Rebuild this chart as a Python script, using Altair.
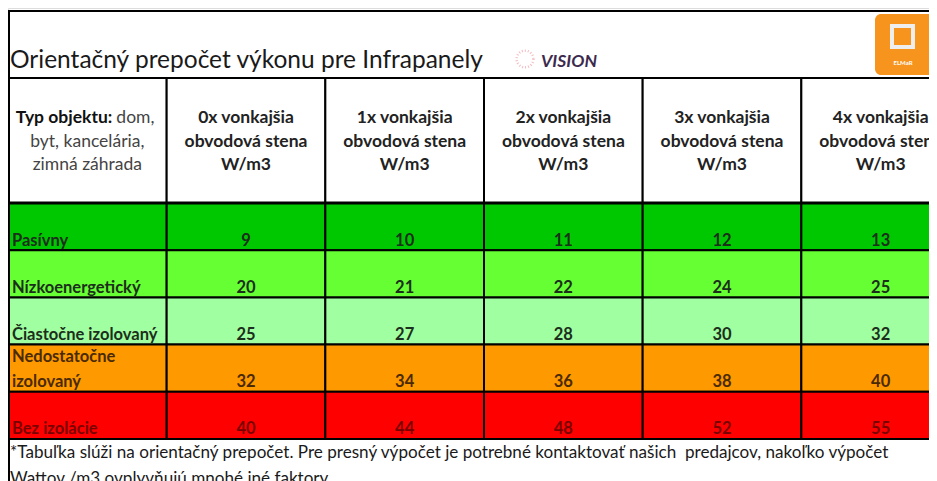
import altair as alt
import pandas as pd

FONT = "Lato"

TITLE = "Orientačný prepočet výkonu pre Infrapanely"
BRAND = "VISION"
LOGO_TEXT = "ELMaR"

columns = ["typ", "0x", "1x", "2x", "3x", "4x"]
value_columns = ["0x", "1x", "2x", "3x", "4x"]
col_head_line0 = ["0x vonkajšia", "1x vonkajšia", "2x vonkajšia", "3x vonkajšia", "4x vonkajšia"]
col_head_line1 = "obvodová stena"
col_head_line2 = "W/m3"
typ_bold = "Typ objektu:"
typ_rest = "dom,"
typ_lines = ["byt, kancelária,", "zimná záhrada"]

rows = ["Pasívny", "Nízkoenergetický", "Čiastočne izolovaný", "Nedostatočne izolovaný", "Bez izolácie"]
row_label_main = ["Pasívny", "Nízkoenergetický", "\u00a0Čiastočne izolovaný", "izolovaný", "Bez izolácie"]
row_label_top = ["", "", "", "Nedostatočne", ""]
row_fill = ["#00c800", "#66ff33", "#a0ffa0", "#ff9900", "#ff0000"]
row_text = ["#1c2e1c", "#1c2e1c", "#1c2e1c", "#4a2a00", "#7a0000"]

vals_0x = [9, 20, 25, 32, 40]
vals_1x = [10, 21, 27, 34, 44]
vals_2x = [11, 22, 28, 36, 48]
vals_3x = [12, 24, 30, 38, 52]
vals_4x = [13, 25, 32, 40, 55]
values = {"0x": vals_0x, "1x": vals_1x, "2x": vals_2x, "3x": vals_3x, "4x": vals_4x}

footer_lines = [
    "*Tabuľka slúži na orientačný prepočet. Pre presný výpočet je potrebné kontaktovať našich\u00a0 predajcov, nakoľko výpočet",
    "Wattov /m3 ovplyvňujú mnohé iné faktory.",
]

# layout (chart-local pixels)
W, H = 921, 473
XRANGE = [0, 952]
TOP = 3
HEAD_TOP, HEAD_BOT = 70, 195
BODY_TOP, BODY_BOT = 195, 431
HEAD_LINES = [110, 157]
FOOT_LINES = [445, 471]
FS_HEAD = 17.5
FS_BODY = 16.5


def xenc(**kw):
    return alt.X("col:N", scale=alt.Scale(domain=columns, range=XRANGE, paddingInner=0, paddingOuter=0),
                 axis=None, **kw)


# ---------- title section ----------
title_df = pd.DataFrame({"t": [TITLE]})
title_text = alt.Chart(title_df).mark_text(align="left", baseline="middle", fontSize=24.5, font=FONT,
                                            color="#1a1a1a").encode(
    x=alt.value(2), y=alt.value(53), text="t:N")
brand_df = pd.DataFrame({"t": [BRAND]})
brand_icon = alt.Chart(brand_df).mark_point(shape="circle", size=280, filled=False, stroke="#f0a0a8",
                                            strokeWidth=2.5, strokeDash=[1, 2]).encode(
    x=alt.value(517), y=alt.value(51))
brand_text = alt.Chart(brand_df).mark_text(align="left", baseline="middle", fontSize=17.5, font=FONT,
                                           fontStyle="italic", fontWeight="bold", color="#3d2b4f").encode(
    x=alt.value(533), y=alt.value(54), text="t:N")
logo_df = pd.DataFrame({"t": [LOGO_TEXT]})
logo_box = alt.Chart(logo_df).mark_rect(cornerRadius=6, color="#f7941d", clip=True).encode(
    x=alt.value(867), x2=alt.value(935), y=alt.value(6), y2=alt.value(67))
logo_sq = alt.Chart(logo_df).mark_rect(fill="#f7941d", stroke="#eeeeee", strokeWidth=4).encode(
    x=alt.value(884), x2=alt.value(905), y=alt.value(18), y2=alt.value(39))
logo_txt = alt.Chart(logo_df).mark_text(fontSize=6, font=FONT, color="#ffffff", fontWeight="bold").encode(
    x=alt.value(895), y=alt.value(55), text="t:N")
top_rule = alt.Chart(title_df).mark_rule(color="black", strokeWidth=2).encode(
    x=alt.value(0), x2=alt.value(W), y=alt.value(TOP))
left_rule = alt.Chart(title_df).mark_rule(color="black", strokeWidth=2).encode(
    x=alt.value(1), y=alt.value(TOP - 1), y2=alt.value(H))

# ---------- header section ----------
head_cells = pd.DataFrame({"col": columns})
head_rect = alt.Chart(head_cells).mark_rect(fill="white", stroke="black", strokeWidth=2, clip=True).encode(
    x=xenc(), y=alt.value(HEAD_TOP), y2=alt.value(HEAD_BOT))

head_rows = []
for c, l0 in zip(value_columns, col_head_line0):
    for i, t in enumerate([l0, col_head_line1, col_head_line2]):
        head_rows.append({"col": c, "line": i, "t": t})
head_df = pd.DataFrame(head_rows)
yline = alt.Y("line:O", scale=alt.Scale(type="point", domain=[0, 1, 2], range=HEAD_LINES, padding=0), axis=None)
head_text = alt.Chart(head_df).mark_text(fontSize=FS_HEAD, font=FONT, fontWeight="bold", color="#222222",
                                         baseline="middle", clip=True).encode(x=xenc(), y=yline, text="t:N")

typ_df = pd.DataFrame({"col": ["typ", "typ"], "line": [1, 2], "t": typ_lines})
typ_text = alt.Chart(typ_df).mark_text(fontSize=FS_HEAD, font=FONT, color="#444444", baseline="middle").encode(
    x=xenc(), y=yline, text="t:N")
typ_b_df = pd.DataFrame({"col": ["typ"], "line": [0], "t": [typ_bold]})
typ_b = alt.Chart(typ_b_df).mark_text(fontSize=FS_HEAD, font=FONT, fontWeight="bold", color="#111111",
                                      baseline="middle", align="right", dx=25).encode(
    x=xenc(), y=yline, text="t:N")
typ_r_df = pd.DataFrame({"col": ["typ"], "line": [0], "t": [typ_rest]})
typ_r = alt.Chart(typ_r_df).mark_text(fontSize=FS_HEAD, font=FONT, color="#444444",
                                      baseline="middle", align="left", dx=29).encode(
    x=xenc(), y=yline, text="t:N")

# ---------- body ----------
cells = []
for r, lab, top, fc, tc, i in zip(rows, row_label_main, row_label_top, row_fill, row_text, range(len(rows))):
    cells.append({"row": r, "col": "typ", "t": lab, "t2": top, "fill": fc, "tc": tc})
    for c in value_columns:
        cells.append({"row": r, "col": c, "t": str(values[c][i]), "t2": "", "fill": fc, "tc": tc})
body_df = pd.DataFrame(cells)
yrow = alt.Y("row:N", scale=alt.Scale(domain=rows, range=[BODY_TOP, BODY_BOT], paddingInner=0, paddingOuter=0),
             axis=None)
body_rect = alt.Chart(body_df).mark_rect(stroke="black", strokeWidth=2, clip=True).encode(
    x=xenc(), y=yrow, fill=alt.Fill("fill:N", scale=None))
nums = alt.Chart(body_df).transform_filter(alt.datum.col != "typ").mark_text(
    fontSize=FS_BODY, font=FONT, fontWeight="bold", baseline="middle", dy=14, clip=True).encode(
    x=xenc(), y=yrow, text="t:N", color=alt.Color("tc:N", scale=None))
labels = alt.Chart(body_df).transform_filter(alt.datum.col == "typ").mark_text(
    fontSize=FS_BODY, font=FONT, fontWeight="bold", baseline="middle", align="left", dx=4, dy=14).encode(
    x=xenc(bandPosition=0), y=yrow, text="t:N", color=alt.Color("tc:N", scale=None))
labels_top = alt.Chart(body_df).transform_filter(alt.datum.t2 != "").mark_text(
    fontSize=FS_BODY, font=FONT, fontWeight="bold", baseline="middle", align="left", dx=4, dy=-11).encode(
    x=xenc(bandPosition=0), y=yrow, text="t2:N", color=alt.Color("tc:N", scale=None))
sep_rule = alt.Chart(title_df).mark_rule(color="black", strokeWidth=3).encode(
    x=alt.value(0), x2=alt.value(W), y=alt.value(BODY_TOP))

# ---------- footer ----------
foot_df = pd.DataFrame({"fline": [0, 1], "t": footer_lines})
foot_text = alt.Chart(foot_df).mark_text(fontSize=17.1, font=FONT, color="#1a1a1a", align="left",
                                         baseline="middle", clip=True).encode(
    x=alt.value(2),
    y=alt.Y("fline:O", scale=alt.Scale(type="point", domain=[0, 1], range=FOOT_LINES, padding=0), axis=None),
    text="t:N")

chart = alt.layer(
    head_rect, body_rect, sep_rule, top_rule, left_rule,
    title_text, brand_icon, brand_text, logo_box, logo_sq, logo_txt,
    head_text, typ_text, typ_b, typ_r,
    nums, labels, labels_top, foot_text,
).resolve_scale(y="independent").properties(
    width=W, height=H,
    padding={"left": 0, "top": 0, "right": 0, "bottom": 0},
    autosize=alt.AutoSizeParams(type="none"),
).configure_view(stroke="transparent", strokeWidth=0).configure(background="white")

chart.save("out.html", embed_options={"renderer": "svg", "actions": False})
